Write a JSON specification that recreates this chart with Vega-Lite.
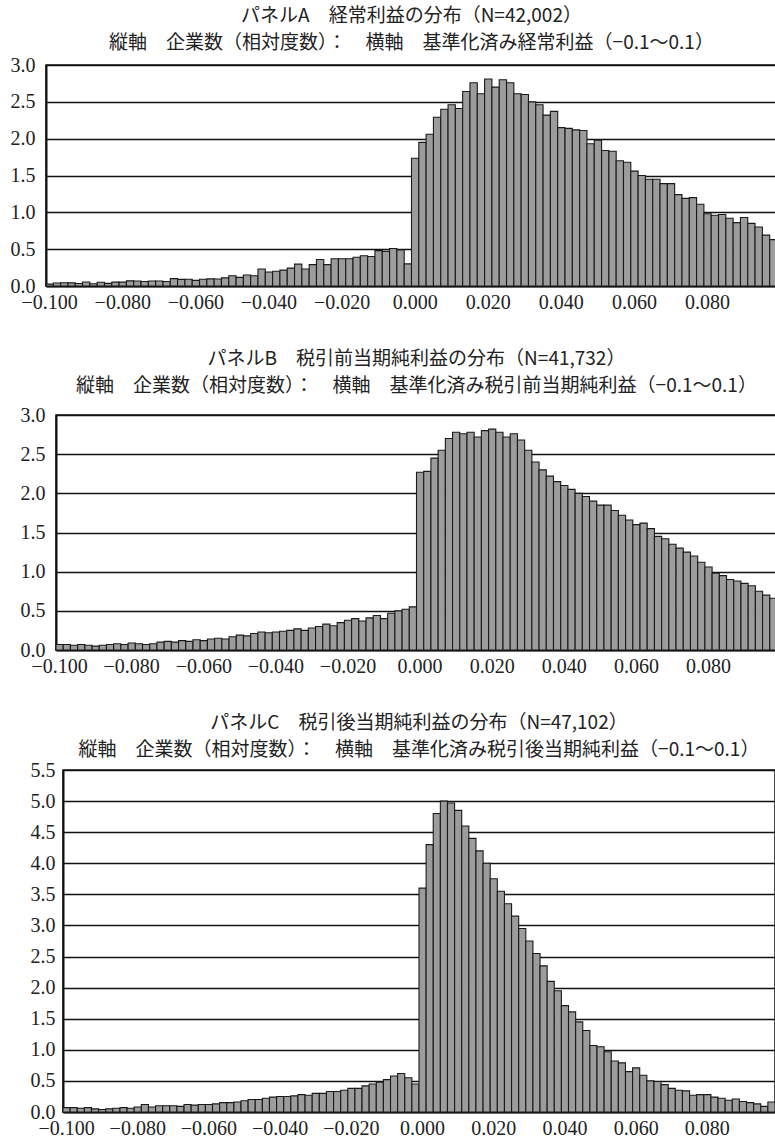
{
  "$schema": "https://vega.github.io/schema/vega-lite/v6.json",
  "padding": {"top": 6, "left": 0, "right": 0, "bottom": 0},
  "background": "white",
  "config": {
    "view": {"stroke": "#111", "strokeWidth": 1.5},
    "axis": {"labelFont": "Liberation Serif", "labelFontSize": 20, "labelColor": "#222", "ticks": false, "domainColor": "#111", "domainWidth": 2},
    "title": {"font": "Noto Sans CJK JP", "fontSize": 19, "fontWeight": "normal", "color": "#222", "lineHeight": 27, "anchor": "middle", "offset": 6},
    "bar": {"fill": "#9c9c9c", "stroke": "#1a1a1a", "strokeWidth": 1.1}
  },
  "datasets": {
    "a": [
      {"x":-0.1,"y":0.025},{"x":-0.098,"y":0.04},{"x":-0.096,"y":0.045},{"x":-0.094,"y":0.042},{"x":-0.092,"y":0.033},{"x":-0.09,"y":0.055},{"x":-0.088,"y":0.03},{"x":-0.086,"y":0.05},{"x":-0.084,"y":0.036},{"x":-0.082,"y":0.053},
      {"x":-0.08,"y":0.053},{"x":-0.078,"y":0.07},{"x":-0.076,"y":0.067},{"x":-0.074,"y":0.062},{"x":-0.072,"y":0.067},{"x":-0.07,"y":0.067},{"x":-0.068,"y":0.062},{"x":-0.066,"y":0.1},{"x":-0.064,"y":0.09},{"x":-0.062,"y":0.092},
      {"x":-0.06,"y":0.076},{"x":-0.058,"y":0.092},{"x":-0.056,"y":0.097},{"x":-0.054,"y":0.095},{"x":-0.052,"y":0.11},{"x":-0.05,"y":0.14},{"x":-0.048,"y":0.117},{"x":-0.046,"y":0.149},{"x":-0.044,"y":0.14},{"x":-0.042,"y":0.23},
      {"x":-0.04,"y":0.19},{"x":-0.038,"y":0.2},{"x":-0.036,"y":0.216},{"x":-0.034,"y":0.243},{"x":-0.032,"y":0.297},{"x":-0.03,"y":0.23},{"x":-0.028,"y":0.29},{"x":-0.026,"y":0.36},{"x":-0.024,"y":0.29},{"x":-0.022,"y":0.37},
      {"x":-0.02,"y":0.37},{"x":-0.018,"y":0.37},{"x":-0.016,"y":0.39},{"x":-0.014,"y":0.41},{"x":-0.012,"y":0.40},{"x":-0.01,"y":0.48},{"x":-0.008,"y":0.47},{"x":-0.006,"y":0.51},{"x":-0.004,"y":0.49},{"x":-0.002,"y":0.30},
      {"x":0,"y":1.735},{"x":0.002,"y":1.95},{"x":0.004,"y":2.06},{"x":0.006,"y":2.29},{"x":0.008,"y":2.40},{"x":0.01,"y":2.46},{"x":0.012,"y":2.41},{"x":0.014,"y":2.64},{"x":0.016,"y":2.76},{"x":0.018,"y":2.61},
      {"x":0.02,"y":2.81},{"x":0.022,"y":2.70},{"x":0.024,"y":2.80},{"x":0.026,"y":2.76},{"x":0.028,"y":2.61},{"x":0.03,"y":2.60},{"x":0.032,"y":2.50},{"x":0.034,"y":2.46},{"x":0.036,"y":2.32},{"x":0.038,"y":2.37},
      {"x":0.04,"y":2.15},{"x":0.042,"y":2.14},{"x":0.044,"y":2.12},{"x":0.046,"y":2.11},{"x":0.048,"y":1.93},{"x":0.05,"y":1.98},{"x":0.052,"y":1.84},{"x":0.054,"y":1.83},{"x":0.056,"y":1.70},{"x":0.058,"y":1.68},
      {"x":0.06,"y":1.56},{"x":0.062,"y":1.50},{"x":0.064,"y":1.45},{"x":0.066,"y":1.45},{"x":0.068,"y":1.39},{"x":0.07,"y":1.39},{"x":0.072,"y":1.24},{"x":0.074,"y":1.19},{"x":0.076,"y":1.20},{"x":0.078,"y":1.11},
      {"x":0.08,"y":0.98},{"x":0.082,"y":0.96},{"x":0.084,"y":0.97},{"x":0.086,"y":0.92},{"x":0.088,"y":0.86},{"x":0.09,"y":0.93},{"x":0.092,"y":0.85},{"x":0.094,"y":0.80},{"x":0.096,"y":0.69},{"x":0.098,"y":0.63}
    ],
    "b": [
      {"x":-0.1,"y":0.07},{"x":-0.098,"y":0.07},{"x":-0.096,"y":0.06},{"x":-0.094,"y":0.07},{"x":-0.092,"y":0.06},{"x":-0.09,"y":0.05},{"x":-0.088,"y":0.06},{"x":-0.086,"y":0.07},{"x":-0.084,"y":0.08},{"x":-0.082,"y":0.07},
      {"x":-0.08,"y":0.09},{"x":-0.078,"y":0.08},{"x":-0.076,"y":0.07},{"x":-0.074,"y":0.08},{"x":-0.072,"y":0.10},{"x":-0.07,"y":0.11},{"x":-0.068,"y":0.10},{"x":-0.066,"y":0.12},{"x":-0.064,"y":0.11},{"x":-0.062,"y":0.13},
      {"x":-0.06,"y":0.12},{"x":-0.058,"y":0.14},{"x":-0.056,"y":0.15},{"x":-0.054,"y":0.14},{"x":-0.052,"y":0.17},{"x":-0.05,"y":0.19},{"x":-0.048,"y":0.18},{"x":-0.046,"y":0.21},{"x":-0.044,"y":0.23},{"x":-0.042,"y":0.22},
      {"x":-0.04,"y":0.23},{"x":-0.038,"y":0.24},{"x":-0.036,"y":0.25},{"x":-0.034,"y":0.27},{"x":-0.032,"y":0.25},{"x":-0.03,"y":0.28},{"x":-0.028,"y":0.30},{"x":-0.026,"y":0.33},{"x":-0.024,"y":0.31},{"x":-0.022,"y":0.35},
      {"x":-0.02,"y":0.38},{"x":-0.018,"y":0.40},{"x":-0.016,"y":0.37},{"x":-0.014,"y":0.41},{"x":-0.012,"y":0.44},{"x":-0.01,"y":0.40},{"x":-0.008,"y":0.47},{"x":-0.006,"y":0.50},{"x":-0.004,"y":0.52},{"x":-0.002,"y":0.55},
      {"x":0,"y":2.27},{"x":0.002,"y":2.28},{"x":0.004,"y":2.45},{"x":0.006,"y":2.55},{"x":0.008,"y":2.70},{"x":0.01,"y":2.78},{"x":0.012,"y":2.76},{"x":0.014,"y":2.78},{"x":0.016,"y":2.72},{"x":0.018,"y":2.80},
      {"x":0.02,"y":2.82},{"x":0.022,"y":2.78},{"x":0.024,"y":2.72},{"x":0.026,"y":2.76},{"x":0.028,"y":2.68},{"x":0.03,"y":2.55},{"x":0.032,"y":2.40},{"x":0.034,"y":2.30},{"x":0.036,"y":2.22},{"x":0.038,"y":2.15},
      {"x":0.04,"y":2.10},{"x":0.042,"y":2.05},{"x":0.044,"y":2.00},{"x":0.046,"y":1.96},{"x":0.048,"y":1.90},{"x":0.05,"y":1.85},{"x":0.052,"y":1.85},{"x":0.054,"y":1.78},{"x":0.056,"y":1.72},{"x":0.058,"y":1.66},
      {"x":0.06,"y":1.60},{"x":0.062,"y":1.62},{"x":0.064,"y":1.55},{"x":0.066,"y":1.45},{"x":0.068,"y":1.42},{"x":0.07,"y":1.35},{"x":0.072,"y":1.30},{"x":0.074,"y":1.25},{"x":0.076,"y":1.20},{"x":0.078,"y":1.12},
      {"x":0.08,"y":1.06},{"x":0.082,"y":0.98},{"x":0.084,"y":0.95},{"x":0.086,"y":0.90},{"x":0.088,"y":0.88},{"x":0.09,"y":0.85},{"x":0.092,"y":0.82},{"x":0.094,"y":0.75},{"x":0.096,"y":0.70},{"x":0.098,"y":0.66}
    ],
    "c": [
      {"x":-0.1,"y":0.07},{"x":-0.098,"y":0.07},{"x":-0.096,"y":0.06},{"x":-0.094,"y":0.07},{"x":-0.092,"y":0.05},{"x":-0.09,"y":0.04},{"x":-0.088,"y":0.05},{"x":-0.086,"y":0.06},{"x":-0.084,"y":0.07},{"x":-0.082,"y":0.06},
      {"x":-0.08,"y":0.08},{"x":-0.078,"y":0.12},{"x":-0.076,"y":0.08},{"x":-0.074,"y":0.10},{"x":-0.072,"y":0.10},{"x":-0.07,"y":0.10},{"x":-0.068,"y":0.09},{"x":-0.066,"y":0.12},{"x":-0.064,"y":0.11},{"x":-0.062,"y":0.12},
      {"x":-0.06,"y":0.12},{"x":-0.058,"y":0.13},{"x":-0.056,"y":0.15},{"x":-0.054,"y":0.15},{"x":-0.052,"y":0.16},{"x":-0.05,"y":0.18},{"x":-0.048,"y":0.20},{"x":-0.046,"y":0.20},{"x":-0.044,"y":0.22},{"x":-0.042,"y":0.24},
      {"x":-0.04,"y":0.25},{"x":-0.038,"y":0.25},{"x":-0.036,"y":0.26},{"x":-0.034,"y":0.28},{"x":-0.032,"y":0.27},{"x":-0.03,"y":0.30},{"x":-0.028,"y":0.30},{"x":-0.026,"y":0.33},{"x":-0.024,"y":0.33},{"x":-0.022,"y":0.35},
      {"x":-0.02,"y":0.38},{"x":-0.018,"y":0.38},{"x":-0.016,"y":0.42},{"x":-0.014,"y":0.45},{"x":-0.012,"y":0.48},{"x":-0.01,"y":0.52},{"x":-0.008,"y":0.58},{"x":-0.006,"y":0.62},{"x":-0.004,"y":0.55},{"x":-0.002,"y":0.45},
      {"x":0,"y":3.6},{"x":0.002,"y":4.3},{"x":0.004,"y":4.8},{"x":0.006,"y":5.0},{"x":0.008,"y":4.97},{"x":0.01,"y":4.85},{"x":0.012,"y":4.6},{"x":0.014,"y":4.4},{"x":0.016,"y":4.2},{"x":0.018,"y":4.0},
      {"x":0.02,"y":3.75},{"x":0.022,"y":3.55},{"x":0.024,"y":3.35},{"x":0.026,"y":3.15},{"x":0.028,"y":2.95},{"x":0.03,"y":2.75},{"x":0.032,"y":2.55},{"x":0.034,"y":2.35},{"x":0.036,"y":2.1},{"x":0.038,"y":1.95},
      {"x":0.04,"y":1.71},{"x":0.042,"y":1.61},{"x":0.044,"y":1.45},{"x":0.046,"y":1.31},{"x":0.048,"y":1.07},{"x":0.05,"y":1.05},{"x":0.052,"y":0.97},{"x":0.054,"y":0.82},{"x":0.056,"y":0.79},{"x":0.058,"y":0.65},
      {"x":0.06,"y":0.71},{"x":0.062,"y":0.59},{"x":0.064,"y":0.50},{"x":0.066,"y":0.49},{"x":0.068,"y":0.44},{"x":0.07,"y":0.38},{"x":0.072,"y":0.35},{"x":0.074,"y":0.34},{"x":0.076,"y":0.27},{"x":0.078,"y":0.28},
      {"x":0.08,"y":0.28},{"x":0.082,"y":0.24},{"x":0.084,"y":0.22},{"x":0.086,"y":0.19},{"x":0.088,"y":0.21},{"x":0.09,"y":0.17},{"x":0.092,"y":0.15},{"x":0.094,"y":0.13},{"x":0.096,"y":0.09},{"x":0.098,"y":0.16}
    ]
  },
  "spacing": 36,
  "vconcat": [
    {
      "spacing": 0,
      "hconcat": [
        {"width": 1, "height": 5, "data": {"values": [{}]}, "mark": {"type": "rule", "opacity": 0}, "encoding": {}, "view": {"stroke": null}},
        {
          "width": 731,
          "height": 221,
          "title": {"text": ["パネルA　経常利益の分布（N=42,002）", "縦軸　企業数（相対度数）：　横軸　基準化済み経常利益（−0.1～0.1）"], "offset": 2},
          "data": {"name": "a"},
          "mark": "bar",
          "encoding": {
            "x": {"field": "x", "type": "ordinal", "scale": {"paddingInner": 0, "paddingOuter": 0},
                  "axis": {"title": null, "values": [-0.1,-0.08,-0.06,-0.04,-0.02,0,0.02,0.04,0.06,0.08], "labelExpr": "format(datum.value, '.3f')", "labelAngle": 0, "labelPadding": 6}},
            "y": {"field": "y", "type": "quantitative", "scale": {"domain": [0, 3], "nice": false},
                  "axis": {"values": [0,0.5,1,1.5,2,2.5,3], "format": ".1f", "grid": true, "gridColor": "#111", "gridWidth": 1.5, "gridOpacity": 1, "labelPadding": 11,
                           "title": ".", "titleOpacity": 0, "titleFontSize": 8, "titleX": -43, "titleY": 0, "titleAngle": 0, "titleAlign": "left"}}
          }
        }
      ]
    },
    {
      "spacing": 0,
      "hconcat": [
        {"width": 11, "height": 5, "data": {"values": [{}]}, "mark": {"type": "rule", "opacity": 0}, "encoding": {}, "view": {"stroke": null}},
        {
          "width": 721,
          "height": 235,
          "title": {"text": ["パネルB　税引前当期純利益の分布（N=41,732）", "縦軸　企業数（相対度数）：　横軸　基準化済み税引前当期純利益（−0.1～0.1）"], "offset": 9},
          "data": {"name": "b"},
          "mark": "bar",
          "encoding": {
            "x": {"field": "x", "type": "ordinal", "scale": {"paddingInner": 0, "paddingOuter": 0},
                  "axis": {"title": null, "values": [-0.1,-0.08,-0.06,-0.04,-0.02,0,0.02,0.04,0.06,0.08], "labelExpr": "format(datum.value, '.3f')", "labelAngle": 0, "labelPadding": 6}},
            "y": {"field": "y", "type": "quantitative", "scale": {"domain": [0, 3], "nice": false},
                  "axis": {"values": [0,0.5,1,1.5,2,2.5,3], "format": ".1f", "grid": true, "gridColor": "#111", "gridWidth": 1.5, "gridOpacity": 1, "labelPadding": 11,
                           "title": ".", "titleOpacity": 0, "titleFontSize": 8, "titleX": -43, "titleY": 0, "titleAngle": 0, "titleAlign": "left"}}
          }
        }
      ]
    },
    {
      "spacing": 0,
      "hconcat": [
        {"width": 18, "height": 5, "data": {"values": [{}]}, "mark": {"type": "rule", "opacity": 0}, "encoding": {}, "view": {"stroke": null}},
        {
          "width": 712,
          "height": 342,
          "title": {"text": ["パネルC　税引後当期純利益の分布（N=47,102）", "縦軸　企業数（相対度数）：　横軸　基準化済み税引後当期純利益（−0.1～0.1）"], "offset": 0},
          "data": {"name": "c"},
          "mark": "bar",
          "encoding": {
            "x": {"field": "x", "type": "ordinal", "scale": {"paddingInner": 0, "paddingOuter": 0},
                  "axis": {"title": null, "values": [-0.1,-0.08,-0.06,-0.04,-0.02,0,0.02,0.04,0.06,0.08], "labelExpr": "format(datum.value, '.3f')", "labelAngle": 0, "labelPadding": 6}},
            "y": {"field": "y", "type": "quantitative", "scale": {"domain": [0, 5.5], "nice": false},
                  "axis": {"values": [0,0.5,1,1.5,2,2.5,3,3.5,4,4.5,5,5.5], "format": ".1f", "grid": true, "gridColor": "#111", "gridWidth": 1.5, "gridOpacity": 1, "labelPadding": 8,
                           "title": ".", "titleOpacity": 0, "titleFontSize": 8, "titleX": -43, "titleY": 0, "titleAngle": 0, "titleAlign": "left"}}
          }
        }
      ]
    }
  ]
}
